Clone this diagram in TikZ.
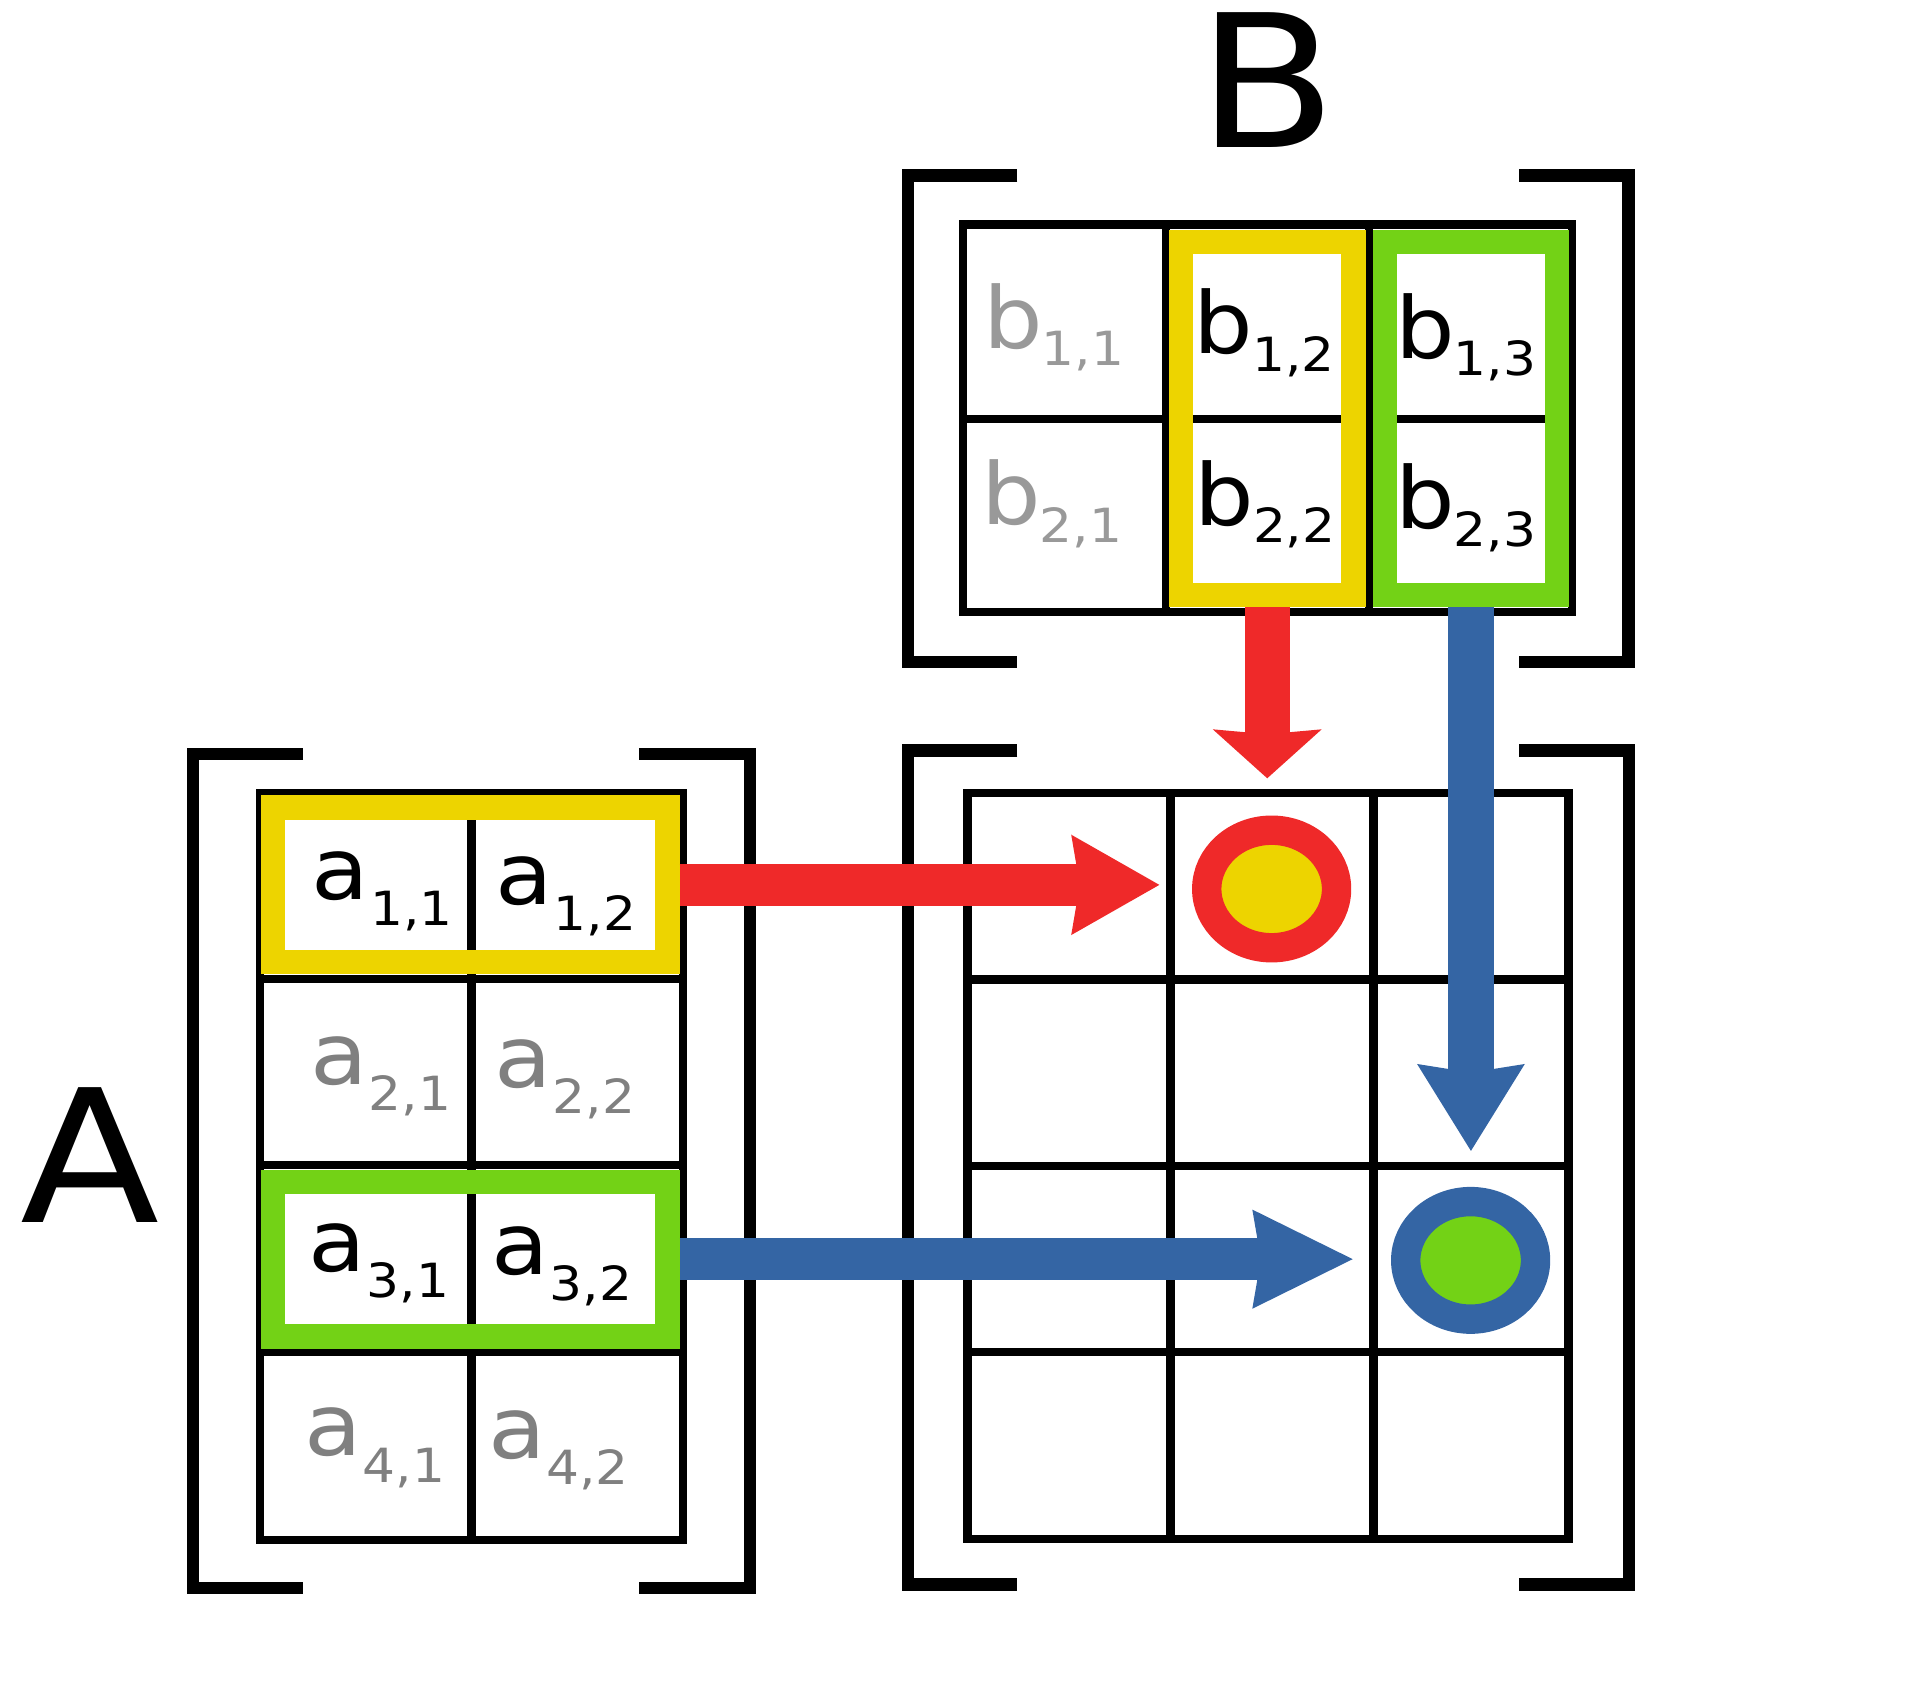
\documentclass[tikz,border=0pt]{standalone}
\usepackage{fontspec}
\setmainfont{DejaVu Sans}[FakeStretch=1.1]
\usetikzlibrary{arrows.meta, shapes.geometric}
\usetikzlibrary{positioning}

\newlength{\unitpx}
\setlength{\unitpx}{0.02cm}

\definecolor{butter}{HTML}{EDD400}
\definecolor{chameleon}{HTML}{73D216}
\definecolor{scarlet}{HTML}{EF2929}
\definecolor{skyblue}{HTML}{3465A4}
\definecolor{greya}{HTML}{808080}
\definecolor{greyb}{HTML}{999999}

% letter with its index set lower and smaller
\newcommand{\aentry}[2]{#1\hspace{0.3pt}\raisebox{-12.2pt}{\fontsize{21.9}{27}\selectfont #2}}
\newcommand{\bentry}[2]{#1\hspace{-0.6pt}\raisebox{-8.1pt}{\fontsize{21.9}{27}\selectfont #2}}

\tikzstyle{grid_line} = [
    draw=black,
    line width=6.8\unitpx
]
\tikzstyle{bracket} = [
    draw=black,
    line width=10\unitpx
]
\tikzstyle{row_box} = [
    rectangle,
    line width=20\unitpx,
    inner sep=0pt,
    minimum width=322\unitpx,
    minimum height=126.3\unitpx
]
\tikzstyle{col_box} = [
    rectangle,
    line width=20\unitpx,
    inner sep=0pt,
    minimum width=140.6\unitpx,
    minimum height=288.2\unitpx
]
\tikzstyle{hit_ring} = [
    ellipse,
    line width=24\unitpx,
    inner sep=0pt,
    minimum width=106\unitpx, % outer size minus the ring
    minimum height=96\unitpx
]
\tikzstyle{cell_text} = [
    inner sep=0pt,
    anchor=base west,
    font=\fontsize{39.7}{48}\selectfont
]
\tikzstyle{big_label} = [
    inner sep=0pt,
    anchor=base west,
    font=\fontsize{86}{100}\selectfont
]
\tikzstyle{shaft_h} = [line width=34\unitpx]
\tikzstyle{shaft_v} = [line width=37\unitpx]

\begin{document}
\begin{tikzpicture}[x=0.02cm, y=-0.02cm]
\useasboundingbox (0,0) rectangle (1568,1377.7);

% brackets
\draw[bracket] (247.5,616) -- (157.6,616) -- (157.6,1297) -- (247.5,1297);
\draw[bracket] (522,616) -- (612.2,616) -- (612.2,1297) -- (522,1297);
\draw[bracket] (830.9,143.3) -- (741.4,143.3) -- (741.4,540.4) -- (830.9,540.4);
\draw[bracket] (1240.6,143.3) -- (1330,143.3) -- (1330,540.4) -- (1240.6,540.4);
\draw[bracket] (830.9,613) -- (741.4,613) -- (741.4,1294) -- (830.9,1294);
\draw[bracket] (1240.5,613) -- (1330.3,613) -- (1330.3,1294) -- (1240.5,1294);

% grid of A
\draw[grid_line] (212.5,647.5) rectangle (557.7,1257.4);
\draw[grid_line] (385,647.5) -- (385,1257.4);
\foreach \y in {799.5, 951.5, 1104}
    \draw[grid_line] (212.5,\y) -- (557.7,\y);

% grid of B
\draw[grid_line] (786.5,183.4) rectangle (1284,500);
\foreach \x in {952, 1118}
    \draw[grid_line] (\x,183.4) -- (\x,500);
\draw[grid_line] (786.5,342) -- (1284,342);

% grid of the product
\draw[grid_line] (790,647.5) rectangle (1281,1257);
\foreach \x in {956, 1121.6}
    \draw[grid_line] (\x,647.5) -- (\x,1257);
\foreach \y in {800, 952, 1104}
    \draw[grid_line] (790,\y) -- (1281,\y);

% chosen row and column
\node (arow1) [row_box, draw=butter] at (384,722.65) {};
\node (arow3) [row_box, draw=chameleon] at (384,1028.3) {};
\node (bcol2) [col_box, draw=butter] at (1034.9,341.9) {};
\node (bcol3) [col_box, draw=chameleon] at (1201.25,341.9) {};

% names
\node (labA) [big_label] at (16.7,998) {A};
\node (labB) [big_label] at (977.3,120.6) {B};

% entries of A
\node (a11) [cell_text] at (254.3,734.6) {\aentry{a}{1,1}};
\node (a12) [cell_text] at (404.3,738.3) {\aentry{a}{1,2}};
\node (a21) [cell_text, text=greya] at (253.4,885.6) {\aentry{a}{2,1}};
\node (a22) [cell_text, text=greya] at (403.4,887.8) {\aentry{a}{2,2}};
\node (a31) [cell_text] at (251.8,1038.4) {\aentry{a}{3,1}};
\node (a32) [cell_text] at (401.2,1040.9) {\aentry{a}{3,2}};
\node (a41) [cell_text, text=greya] at (248.4,1189) {\aentry{a}{4,1}};
\node (a42) [cell_text, text=greya] at (398.4,1191) {\aentry{a}{4,2}};

% entries of B
\node (b11) [cell_text, text=greyb] at (802.8,284.3) {\bentry{b}{1,1}};
\node (b12) [cell_text] at (974.5,288.9) {\bentry{b}{1,2}};
\node (b13) [cell_text] at (1139.3,292.5) {\bentry{b}{1,3}};
\node (b21) [cell_text, text=greyb] at (801,428.6) {\bentry{b}{2,1}};
\node (b22) [cell_text] at (975.3,429.1) {\bentry{b}{2,2}};
\node (b23) [cell_text] at (1139.3,431.8) {\bentry{b}{2,3}};

% resulting entries
\node (dotA) [hit_ring, draw=scarlet, fill=butter] at (1038.5,726) {};
\node (dotB) [hit_ring, draw=skyblue, fill=chameleon] at (1201,1029.3) {};

\coordinate (tipAH) at ([xshift=-26.7\unitpx]dotA.west);
\coordinate (tipAV) at ([yshift=30.4\unitpx]dotA.north);
\coordinate (tipBH) at ([xshift=-31.3\unitpx]dotB.west);
\coordinate (tipBV) at ([yshift=29.4\unitpx]dotB.north);

\draw[shaft_h, scarlet, -{Stealth[length=1.44cm, width=1.64cm, inset=0.14cm, line width=0pt]}]
    (arow1.east) -- (arow1.east -| tipAH);
\draw[shaft_v, scarlet, -{Stealth[length=0.8cm, width=1.78cm, inset=0.08cm, line width=0pt]}]
    (bcol2.south) -- (bcol2.south |- tipAV);
\draw[shaft_h, skyblue, -{Stealth[length=1.64cm, width=1.62cm, inset=0.14cm, line width=0pt]}]
    (arow3.east) -- (arow3.east -| tipBH);
\draw[shaft_v, skyblue, -{Stealth[length=1.42cm, width=1.76cm, inset=0.14cm, line width=0pt]}]
    (bcol3.south) -- (bcol3.south |- tipBV);
\end{tikzpicture}
\end{document}
